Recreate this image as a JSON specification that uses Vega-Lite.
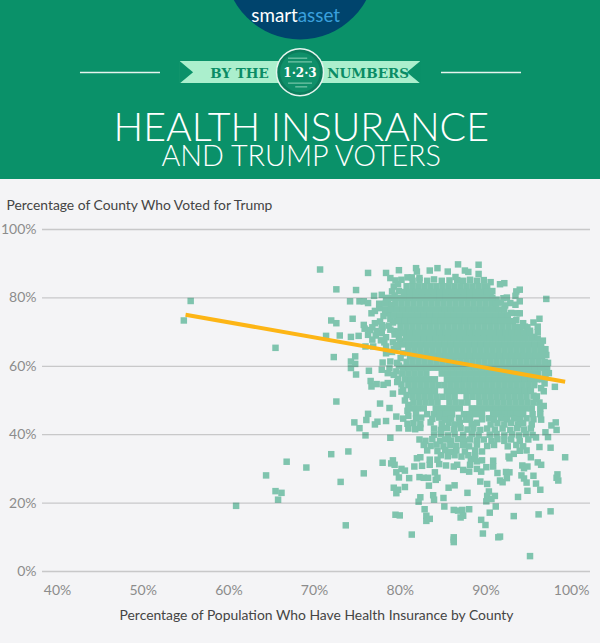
{"$schema":"https://vega.github.io/schema/vega-lite/v6.json","width":548,"height":342,"autosize":{"type":"none"},"padding":{"left":42,"top":229.5,"right":10,"bottom":71.5},"background":"#f4f4f6","config":{"view":{"stroke":null}},
"layer":[
{"data":{"values":[
{"x":54.8,"y":73.4},{"x":55.6,"y":79.1},{"x":65.5,"y":65.4},{"x":60.9,"y":19.2},{"x":64.4,"y":28.1},{"x":65.5,"y":23.5},{"x":65.8,"y":21},{"x":66.2,"y":23},{"x":66.8,"y":32.1},{"x":69.1,"y":30.4},{"x":72,"y":34.3},{"x":74,"y":35.1},{"x":73.1,"y":26.2},{"x":75.8,"y":28.7},{"x":73.7,"y":13.5},{"x":74.7,"y":43.6},{"x":75.3,"y":41.9},{"x":76.1,"y":44.3},{"x":76,"y":39.8},{"x":76.3,"y":46.1},{"x":77.1,"y":43},{"x":77.4,"y":43.8},{"x":78.4,"y":44},{"x":78.9,"y":39.1},{"x":78,"y":31.8},{"x":79.6,"y":45.3},{"x":79.9,"y":41.9},{"x":79.2,"y":32.5},{"x":79,"y":31.6},{"x":79.4,"y":31.2},{"x":79.6,"y":29},{"x":79.9,"y":27.5},{"x":80.2,"y":30},{"x":80.6,"y":29.5},{"x":81.1,"y":27.3},{"x":79.3,"y":24.5},{"x":79.8,"y":23.9},{"x":79.6,"y":22.9},{"x":80.6,"y":24.7},{"x":79.5,"y":16.6},{"x":80,"y":16.4},{"x":81.4,"y":10.8},{"x":81.7,"y":30.7},{"x":82.3,"y":27.6},{"x":82.8,"y":27.4},{"x":83.3,"y":27.4},{"x":83.4,"y":25.1},{"x":82.4,"y":21.7},{"x":82.2,"y":20.4},{"x":82.9,"y":18.2},{"x":83.1,"y":16.3},{"x":83.5,"y":15.4},{"x":83.1,"y":14.8},{"x":83.9,"y":22.3},{"x":84,"y":21},{"x":84.2,"y":26.8},{"x":84.4,"y":27.4},{"x":84.1,"y":29},{"x":85.1,"y":21.5},{"x":85.2,"y":19},{"x":85.7,"y":24.5},{"x":86.4,"y":25.2},{"x":86.3,"y":18},{"x":86.8,"y":17.8},{"x":87.3,"y":18},{"x":88.1,"y":18.2},{"x":87.4,"y":16.3},{"x":87.1,"y":15.8},{"x":86.3,"y":10},{"x":86.3,"y":9.3},{"x":86.3,"y":8.6},{"x":87.9,"y":23},{"x":89.4,"y":26.3},{"x":90.2,"y":25.6},{"x":90.4,"y":23.4},{"x":91.1,"y":22.1},{"x":90.2,"y":22.1},{"x":90.7,"y":21.2},{"x":90.1,"y":20.5},{"x":91.2,"y":19},{"x":90.5,"y":17.2},{"x":89.5,"y":15.1},{"x":90,"y":13.6},{"x":89.7,"y":11.1},{"x":91.5,"y":10},{"x":91.7,"y":10.2},{"x":93.3,"y":16.2},{"x":93.8,"y":21.8},{"x":95.2,"y":4.5},{"x":94.9,"y":23.6},{"x":96.4,"y":23.9},{"x":95.9,"y":25.7},{"x":95.6,"y":28},{"x":96.2,"y":16.7},{"x":97.6,"y":17.6},{"x":98.4,"y":28.4},{"x":98.3,"y":27.4},{"x":98.5,"y":26.6},{"x":99.3,"y":33.4},{"x":97.6,"y":36.2},{"x":96.3,"y":36.4},{"x":96.1,"y":31.9},{"x":96.5,"y":31.2},{"x":94.3,"y":31},{"x":94.9,"y":30.7},{"x":94.5,"y":30.2},{"x":94.2,"y":28.1},{"x":94.5,"y":27.2},{"x":94.8,"y":26},{"x":95.3,"y":33.4},{"x":94.8,"y":35.4},{"x":95.9,"y":39.2},{"x":97.3,"y":39.3},{"x":97,"y":40.7},{"x":98.3,"y":41.4},{"x":98.2,"y":43.6},{"x":97.7,"y":42.7},{"x":96.5,"y":44.4},{"x":91.4,"y":28.8},{"x":92.4,"y":29.1},{"x":92.8,"y":29},{"x":92.5,"y":27.3},{"x":91.7,"y":26.6},{"x":92,"y":26.1},{"x":92.8,"y":33.1},{"x":93.3,"y":34.4},{"x":92.7,"y":33.6},{"x":90.9,"y":32.4},{"x":90.9,"y":30.7},{"x":90.1,"y":30.5},{"x":89.6,"y":32.5},{"x":89,"y":32.2},{"x":88.3,"y":32.9},{"x":88.2,"y":31.2},{"x":87.4,"y":29.7},{"x":88.1,"y":29.2},{"x":89,"y":30},{"x":89.5,"y":29.2},{"x":86.3,"y":30.7},{"x":86.7,"y":31.2},{"x":85.4,"y":31},{"x":84.6,"y":31.4},{"x":83.5,"y":31.2},{"x":82.6,"y":30.9},{"x":82,"y":33.1},{"x":82.4,"y":33.4},{"x":83.5,"y":32.7},{"x":84.4,"y":32.7},
{"x":70.7,"y":88.3},{"x":76.3,"y":87.3},{"x":72.6,"y":82.5},{"x":74.9,"y":82.3},{"x":74.2,"y":79},{"x":75.3,"y":79},{"x":78.4,"y":87.3},{"x":79.9,"y":88.1},{"x":78.9,"y":85.8},{"x":79.5,"y":85.1},{"x":79.3,"y":83.3},{"x":79.1,"y":81.9},{"x":81.9,"y":88.7},{"x":82,"y":87.7},{"x":83.5,"y":88},{"x":84.4,"y":88.7},{"x":85.6,"y":87.7},{"x":86.8,"y":89.8},{"x":89.2,"y":89.7},{"x":89.2,"y":87},{"x":87.6,"y":88},{"x":88,"y":87.6},{"x":86.5,"y":86.1},{"x":80.9,"y":86},{"x":81.4,"y":86},{"x":82.3,"y":85.8},{"x":91.7,"y":84},{"x":92.2,"y":84.3},{"x":94,"y":82.4},{"x":93.6,"y":81.9},{"x":93.5,"y":80.6},{"x":92.1,"y":79.9},{"x":92.5,"y":80.1},{"x":92.9,"y":78.5},{"x":94,"y":79},{"x":93.5,"y":78},{"x":97.1,"y":79.7},{"x":96.3,"y":73.9},{"x":95.6,"y":72.8},{"x":96.1,"y":71.6},{"x":96.1,"y":70},{"x":94.6,"y":71.6},{"x":95.2,"y":70.4},{"x":93.7,"y":75.5},{"x":94,"y":75.5},{"x":72,"y":73.4},{"x":72.6,"y":72.6},{"x":74.5,"y":73.9},{"x":75.8,"y":72.1},{"x":71.4,"y":68.9},{"x":73,"y":69},{"x":74.3,"y":68.6},{"x":72.3,"y":62.7},{"x":74.8,"y":62.9},{"x":74.3,"y":61.4},{"x":74.8,"y":60.7},{"x":74.3,"y":59.5},{"x":74.9,"y":57.6},{"x":76.4,"y":58.7},{"x":76.6,"y":55.7},{"x":77.3,"y":54.8},{"x":76.7,"y":54.1},{"x":78.1,"y":54.6},{"x":78.6,"y":55.1},{"x":72.6,"y":49.7},{"x":77.7,"y":49.1},{"x":78.8,"y":47.8},{"x":79.2,"y":52},{"x":98.1,"y":54},{"x":97.4,"y":58},{"x":96.8,"y":52.7},{"x":95.6,"y":51.4},{"x":77,"y":80.6},{"x":77.9,"y":80.9},{"x":75.8,"y":79},{"x":76.3,"y":78.5},{"x":76.7,"y":75.5},{"x":77.7,"y":73.1},{"x":77.1,"y":72.6},{"x":77.9,"y":69.7},{"x":75.2,"y":68.9},{"x":76.3,"y":69.2},{"x":76,"y":65.8},{"x":76.9,"y":65.8},{"x":78.4,"y":65.8},{"x":78.4,"y":63.8},{"x":78.9,"y":70.7},{"x":78,"y":61.1},{"x":78.9,"y":61.4},{"x":77.9,"y":59},{"x":78.6,"y":58},{"x":79.6,"y":58.5},{"x":77.2,"y":69},{"x":76.8,"y":67.8},{"x":79.2,"y":67},
{"x":78.7,"y":75.5},{"x":78.3,"y":76.4},{"x":78.9,"y":73.9},{"x":79.2,"y":72.8},{"x":78.7,"y":71.9},{"x":79.4,"y":70.3},{"x":79.9,"y":68.4},{"x":79.4,"y":69.3},{"x":80,"y":67.3},{"x":79.8,"y":65.6},{"x":79.3,"y":65},{"x":80.4,"y":63.8},{"x":80.1,"y":62.4},{"x":79.7,"y":61},{"x":79.9,"y":60.2},{"x":78.8,"y":59.4},{"x":79.3,"y":57.5},{"x":79.8,"y":56.4},{"x":80.2,"y":54.7},{"x":79.7,"y":55.4},{"x":80.4,"y":53},{"x":80.8,"y":51.6},{"x":80.2,"y":52.6},{"x":80.6,"y":50},{"x":81,"y":48.7},{"x":80.9,"y":47},{"x":81,"y":45.5},{"x":80.4,"y":44.7},{"x":80.9,"y":43.2},{"x":77.6,"y":77},{"x":77.1,"y":76.2},{"x":78.1,"y":74.7},{"x":77.9,"y":72},{"x":78,"y":71.4},{"x":76.5,"y":70.6},{"x":75.9,"y":71},{"x":77.3,"y":70.3},{"x":76.8,"y":71.4},{"x":78.4,"y":68.5},{"x":77.8,"y":67.6},{"x":79.1,"y":64.2},{"x":79.6,"y":66.2},{"x":78.2,"y":67},{"x":79.9,"y":70},{"x":79.6,"y":74.2},{"x":79,"y":78},{"x":78.6,"y":79},{"x":79.9,"y":82},{"x":79.4,"y":80.7},{"x":79.8,"y":84},{"x":80.2,"y":85.3},{"x":90.6,"y":80.4},{"x":91.3,"y":79.5},{"x":91.8,"y":78.6},{"x":92.3,"y":77.8},{"x":90.2,"y":83},{"x":90.8,"y":82},{"x":90.6,"y":84.6},{"x":93,"y":75.6},{"x":93.6,"y":73.5},{"x":94.4,"y":72.6},{"x":94.9,"y":71.4},{"x":95.7,"y":68.6},{"x":96.7,"y":67.5},{"x":97,"y":65},{"x":97.1,"y":63.3},{"x":97.3,"y":61},{"x":97.2,"y":59.7},{"x":96.9,"y":58},{"x":97,"y":56.8},{"x":96.9,"y":55},{"x":96.5,"y":53.6},{"x":96,"y":51.2},{"x":95.9,"y":50.5},{"x":96.8,"y":48.4},
{"x":81.5,"y":85},{"x":82.3,"y":85.2},{"x":83.2,"y":85},{"x":84,"y":85.4},{"x":84.9,"y":85},{"x":85.8,"y":85.1},{"x":86.7,"y":85.2},{"x":87.4,"y":85},{"x":88.2,"y":85.3},{"x":89,"y":85},{"x":89.8,"y":85.2},
{"x":80.8,"y":83.4},{"x":81.5,"y":83.4},{"x":82.2,"y":83.4},{"x":82.9,"y":83.4},{"x":83.6,"y":83.4},{"x":84.3,"y":83.4},{"x":85,"y":83.4},{"x":85.7,"y":83.4},{"x":86.4,"y":83.4},{"x":87.1,"y":83.4},{"x":87.8,"y":83.4},{"x":88.5,"y":83.4},{"x":89.2,"y":83.4},{"x":89.9,"y":83.4},
{"x":80.5,"y":81.7},{"x":81.2,"y":81.7},{"x":81.9,"y":81.7},{"x":82.6,"y":81.7},{"x":83.3,"y":81.7},{"x":84,"y":81.7},{"x":84.7,"y":81.7},{"x":85.4,"y":81.7},{"x":86.1,"y":81.7},{"x":86.8,"y":81.7},{"x":87.5,"y":81.7},{"x":88.2,"y":81.7},{"x":88.9,"y":81.7},{"x":89.6,"y":81.7},{"x":90.2,"y":81.7},
{"x":78.4,"y":80},{"x":79.1,"y":80},{"x":79.8,"y":80},{"x":80.5,"y":80},{"x":81.2,"y":80},{"x":81.9,"y":80},{"x":82.6,"y":80},{"x":83.3,"y":80},{"x":84,"y":80},{"x":84.7,"y":80},{"x":85.4,"y":80},{"x":86.1,"y":80},{"x":86.8,"y":80},{"x":87.5,"y":80},{"x":88.2,"y":80},{"x":88.9,"y":80},{"x":89.6,"y":80},{"x":90.3,"y":80},{"x":90.8,"y":80},
{"x":77.6,"y":78.3},{"x":78.3,"y":78.3},{"x":79.5,"y":78.3},{"x":80.2,"y":78.3},{"x":80.9,"y":78.3},{"x":81.6,"y":78.3},{"x":82.3,"y":78.3},{"x":83,"y":78.3},{"x":83.7,"y":78.3},{"x":84.4,"y":78.3},{"x":85.1,"y":78.3},{"x":85.8,"y":78.3},{"x":86.5,"y":78.3},{"x":87.2,"y":78.3},{"x":87.9,"y":78.3},{"x":88.6,"y":78.3},{"x":89.3,"y":78.3},{"x":90,"y":78.3},{"x":90.7,"y":78.3},{"x":91.2,"y":78.3},
{"x":79,"y":76.6},{"x":79.7,"y":76.6},{"x":80.4,"y":76.6},{"x":81.1,"y":76.6},{"x":81.8,"y":76.6},{"x":82.5,"y":76.6},{"x":83.2,"y":76.6},{"x":83.9,"y":76.6},{"x":84.6,"y":76.6},{"x":85.3,"y":76.6},{"x":86,"y":76.6},{"x":86.7,"y":76.6},{"x":87.4,"y":76.6},{"x":88.1,"y":76.6},{"x":88.8,"y":76.6},{"x":89.5,"y":76.6},{"x":90.2,"y":76.6},{"x":90.9,"y":76.6},{"x":91.6,"y":76.6},{"x":92.2,"y":76.6},
{"x":79.3,"y":74.9},{"x":80,"y":74.9},{"x":80.7,"y":74.9},{"x":81.4,"y":74.9},{"x":82.1,"y":74.9},{"x":82.8,"y":74.9},{"x":83.5,"y":74.9},{"x":84.2,"y":74.9},{"x":84.9,"y":74.9},{"x":85.6,"y":74.9},{"x":86.3,"y":74.9},{"x":87,"y":74.9},{"x":87.7,"y":74.9},{"x":88.4,"y":74.9},{"x":89.1,"y":74.9},{"x":89.8,"y":74.9},{"x":90.5,"y":74.9},{"x":91.2,"y":74.9},{"x":91.9,"y":74.9},{"x":92.6,"y":74.9},
{"x":79.9,"y":73.2},{"x":80.6,"y":73.2},{"x":81.3,"y":73.2},{"x":82,"y":73.2},{"x":82.7,"y":73.2},{"x":83.4,"y":73.2},{"x":84.1,"y":73.2},{"x":84.8,"y":73.2},{"x":85.5,"y":73.2},{"x":86.2,"y":73.2},{"x":86.9,"y":73.2},{"x":87.6,"y":73.2},{"x":88.3,"y":73.2},{"x":89,"y":73.2},{"x":89.7,"y":73.2},{"x":90.4,"y":73.2},{"x":91.1,"y":73.2},{"x":91.8,"y":73.2},{"x":92.5,"y":73.2},{"x":93.2,"y":73.2},
{"x":80.1,"y":71.5},{"x":80.8,"y":71.5},{"x":81.5,"y":71.5},{"x":82.2,"y":71.5},{"x":82.9,"y":71.5},{"x":83.6,"y":71.5},{"x":84.3,"y":71.5},{"x":85,"y":71.5},{"x":85.7,"y":71.5},{"x":86.4,"y":71.5},{"x":87.1,"y":71.5},{"x":87.8,"y":71.5},{"x":88.5,"y":71.5},{"x":89.2,"y":71.5},{"x":89.9,"y":71.5},{"x":90.6,"y":71.5},{"x":91.3,"y":71.5},{"x":92,"y":71.5},{"x":92.7,"y":71.5},{"x":93.4,"y":71.5},{"x":94,"y":71.5},
{"x":80.5,"y":69.8},{"x":81.2,"y":69.8},{"x":81.9,"y":69.8},{"x":82.6,"y":69.8},{"x":83.3,"y":69.8},{"x":84,"y":69.8},{"x":84.7,"y":69.8},{"x":85.4,"y":69.8},{"x":86.1,"y":69.8},{"x":86.8,"y":69.8},{"x":87.5,"y":69.8},{"x":88.2,"y":69.8},{"x":88.9,"y":69.8},{"x":89.6,"y":69.8},{"x":90.3,"y":69.8},{"x":91,"y":69.8},{"x":91.7,"y":69.8},{"x":92.4,"y":69.8},{"x":93.1,"y":69.8},{"x":93.8,"y":69.8},{"x":94.5,"y":69.8},{"x":95.2,"y":69.8},
{"x":80.7,"y":68.1},{"x":81.4,"y":68.1},{"x":82.1,"y":68.1},{"x":82.8,"y":68.1},{"x":83.5,"y":68.1},{"x":84.2,"y":68.1},{"x":84.9,"y":68.1},{"x":85.6,"y":68.1},{"x":86.3,"y":68.1},{"x":87,"y":68.1},{"x":87.7,"y":68.1},{"x":88.4,"y":68.1},{"x":89.1,"y":68.1},{"x":89.8,"y":68.1},{"x":90.5,"y":68.1},{"x":91.2,"y":68.1},{"x":91.9,"y":68.1},{"x":92.6,"y":68.1},{"x":93.3,"y":68.1},{"x":94,"y":68.1},{"x":94.7,"y":68.1},{"x":95.4,"y":68.1},{"x":96.1,"y":68.1},
{"x":80.4,"y":66.4},{"x":81.1,"y":66.4},{"x":81.8,"y":66.4},{"x":82.5,"y":66.4},{"x":83.2,"y":66.4},{"x":83.9,"y":66.4},{"x":84.6,"y":66.4},{"x":85.3,"y":66.4},{"x":86,"y":66.4},{"x":86.7,"y":66.4},{"x":87.4,"y":66.4},{"x":88.1,"y":66.4},{"x":88.8,"y":66.4},{"x":89.5,"y":66.4},{"x":90.2,"y":66.4},{"x":90.9,"y":66.4},{"x":91.6,"y":66.4},{"x":92.3,"y":66.4},{"x":93,"y":66.4},{"x":93.7,"y":66.4},{"x":94.4,"y":66.4},{"x":95.1,"y":66.4},{"x":95.8,"y":66.4},{"x":96.5,"y":66.4},
{"x":81,"y":64.7},{"x":81.7,"y":64.7},{"x":82.4,"y":64.7},{"x":83.1,"y":64.7},{"x":83.8,"y":64.7},{"x":84.5,"y":64.7},{"x":85.2,"y":64.7},{"x":85.9,"y":64.7},{"x":86.6,"y":64.7},{"x":87.3,"y":64.7},{"x":88,"y":64.7},{"x":88.7,"y":64.7},{"x":89.4,"y":64.7},{"x":90.1,"y":64.7},{"x":90.8,"y":64.7},{"x":91.5,"y":64.7},{"x":92.2,"y":64.7},{"x":92.9,"y":64.7},{"x":93.6,"y":64.7},{"x":94.3,"y":64.7},{"x":95,"y":64.7},{"x":95.7,"y":64.7},{"x":96.4,"y":64.7},
{"x":81.2,"y":63},{"x":81.9,"y":63},{"x":82.6,"y":63},{"x":83.3,"y":63},{"x":84,"y":63},{"x":84.7,"y":63},{"x":85.4,"y":63},{"x":86.1,"y":63},{"x":86.8,"y":63},{"x":87.5,"y":63},{"x":88.2,"y":63},{"x":88.9,"y":63},{"x":89.6,"y":63},{"x":90.3,"y":63},{"x":91,"y":63},{"x":91.7,"y":63},{"x":92.4,"y":63},{"x":93.1,"y":63},{"x":93.8,"y":63},{"x":94.5,"y":63},{"x":95.2,"y":63},{"x":95.9,"y":63},{"x":96.6,"y":63},
{"x":80.8,"y":61.3},{"x":81.5,"y":61.3},{"x":82.2,"y":61.3},{"x":82.9,"y":61.3},{"x":83.6,"y":61.3},{"x":84.3,"y":61.3},{"x":85,"y":61.3},{"x":85.7,"y":61.3},{"x":86.4,"y":61.3},{"x":87.1,"y":61.3},{"x":87.8,"y":61.3},{"x":88.5,"y":61.3},{"x":89.2,"y":61.3},{"x":89.9,"y":61.3},{"x":90.6,"y":61.3},{"x":91.3,"y":61.3},{"x":92,"y":61.3},{"x":92.7,"y":61.3},{"x":93.4,"y":61.3},{"x":94.1,"y":61.3},{"x":94.8,"y":61.3},{"x":95.5,"y":61.3},{"x":96.2,"y":61.3},{"x":96.9,"y":61.3},
{"x":80.4,"y":59.6},{"x":81.1,"y":59.6},{"x":81.8,"y":59.6},{"x":82.5,"y":59.6},{"x":83.2,"y":59.6},{"x":83.9,"y":59.6},{"x":84.6,"y":59.6},{"x":85.3,"y":59.6},{"x":86,"y":59.6},{"x":86.7,"y":59.6},{"x":87.4,"y":59.6},{"x":88.1,"y":59.6},{"x":88.8,"y":59.6},{"x":89.5,"y":59.6},{"x":90.2,"y":59.6},{"x":90.9,"y":59.6},{"x":91.6,"y":59.6},{"x":92.3,"y":59.6},{"x":93,"y":59.6},{"x":93.7,"y":59.6},{"x":94.4,"y":59.6},{"x":95.1,"y":59.6},{"x":95.8,"y":59.6},{"x":96.5,"y":59.6},
{"x":80.3,"y":57.9},{"x":81,"y":57.9},{"x":81.7,"y":57.9},{"x":82.4,"y":57.9},{"x":83.1,"y":57.9},{"x":84.9,"y":57.9},{"x":85.6,"y":57.9},{"x":86.3,"y":57.9},{"x":87,"y":57.9},{"x":87.7,"y":57.9},{"x":88.4,"y":57.9},{"x":89.1,"y":57.9},{"x":89.8,"y":57.9},{"x":90.5,"y":57.9},{"x":91.2,"y":57.9},{"x":91.9,"y":57.9},{"x":92.6,"y":57.9},{"x":93.3,"y":57.9},{"x":94,"y":57.9},{"x":94.7,"y":57.9},{"x":95.4,"y":57.9},{"x":96.1,"y":57.9},
{"x":80.6,"y":56.2},{"x":81.3,"y":56.2},{"x":82,"y":56.2},{"x":82.7,"y":56.2},{"x":83.4,"y":56.2},{"x":84.1,"y":56.2},{"x":85.5,"y":56.2},{"x":86.2,"y":56.2},{"x":86.9,"y":56.2},{"x":87.6,"y":56.2},{"x":88.3,"y":56.2},{"x":89,"y":56.2},{"x":89.7,"y":56.2},{"x":90.4,"y":56.2},{"x":91.1,"y":56.2},{"x":91.8,"y":56.2},{"x":92.5,"y":56.2},{"x":93.2,"y":56.2},{"x":93.9,"y":56.2},{"x":94.6,"y":56.2},{"x":95.3,"y":56.2},{"x":96,"y":56.2},{"x":96.6,"y":56.2},
{"x":81,"y":54.5},{"x":81.7,"y":54.5},{"x":82.4,"y":54.5},{"x":83.1,"y":54.5},{"x":83.8,"y":54.5},{"x":84.5,"y":54.5},{"x":85.2,"y":54.5},{"x":85.9,"y":54.5},{"x":86.6,"y":54.5},{"x":87.3,"y":54.5},{"x":88,"y":54.5},{"x":88.7,"y":54.5},{"x":89.4,"y":54.5},{"x":90.1,"y":54.5},{"x":90.8,"y":54.5},{"x":91.5,"y":54.5},{"x":92.2,"y":54.5},{"x":92.9,"y":54.5},{"x":93.6,"y":54.5},{"x":94.3,"y":54.5},{"x":95,"y":54.5},{"x":95.7,"y":54.5},
{"x":81.3,"y":52.8},{"x":82,"y":52.8},{"x":82.7,"y":52.8},{"x":83.4,"y":52.8},{"x":84.1,"y":52.8},{"x":85.5,"y":52.8},{"x":86.2,"y":52.8},{"x":86.9,"y":52.8},{"x":87.6,"y":52.8},{"x":88.3,"y":52.8},{"x":89,"y":52.8},{"x":89.7,"y":52.8},{"x":90.4,"y":52.8},{"x":91.1,"y":52.8},{"x":91.8,"y":52.8},{"x":92.5,"y":52.8},{"x":93.2,"y":52.8},{"x":93.9,"y":52.8},{"x":94.6,"y":52.8},{"x":95.3,"y":52.8},
{"x":81.5,"y":51.1},{"x":82.2,"y":51.1},{"x":82.9,"y":51.1},{"x":83.6,"y":51.1},{"x":84.3,"y":51.1},{"x":85,"y":51.1},{"x":85.7,"y":51.1},{"x":86.4,"y":51.1},{"x":87.8,"y":51.1},{"x":88.5,"y":51.1},{"x":89.2,"y":51.1},{"x":89.9,"y":51.1},{"x":90.6,"y":51.1},{"x":91.3,"y":51.1},{"x":92,"y":51.1},{"x":92.7,"y":51.1},{"x":93.4,"y":51.1},{"x":94.1,"y":51.1},{"x":94.8,"y":51.1},
{"x":81.6,"y":49.4},{"x":82.3,"y":49.4},{"x":83,"y":49.4},{"x":83.7,"y":49.4},{"x":84.4,"y":49.4},{"x":85.8,"y":49.4},{"x":86.5,"y":49.4},{"x":87.2,"y":49.4},{"x":87.9,"y":49.4},{"x":89.3,"y":49.4},{"x":90,"y":49.4},{"x":90.7,"y":49.4},{"x":91.4,"y":49.4},{"x":92.1,"y":49.4},{"x":92.8,"y":49.4},{"x":93.5,"y":49.4},{"x":94.2,"y":49.4},{"x":94.9,"y":49.4},{"x":95.6,"y":49.4},{"x":96.3,"y":49.4},
{"x":81.4,"y":47.7},{"x":82.1,"y":47.7},{"x":82.8,"y":47.7},{"x":84.2,"y":47.7},{"x":84.9,"y":47.7},{"x":85.6,"y":47.7},{"x":86.3,"y":47.7},{"x":87,"y":47.7},{"x":88.4,"y":47.7},{"x":89.1,"y":47.7},{"x":89.8,"y":47.7},{"x":90.5,"y":47.7},{"x":91.2,"y":47.7},{"x":91.9,"y":47.7},{"x":92.6,"y":47.7},{"x":93.3,"y":47.7},{"x":94,"y":47.7},{"x":94.7,"y":47.7},{"x":95.4,"y":47.7},{"x":96.4,"y":47.7},
{"x":81.9,"y":46},{"x":83.2,"y":46},{"x":84,"y":46},{"x":84.7,"y":46},{"x":85.4,"y":46},{"x":86.1,"y":46},{"x":87.5,"y":46},{"x":88.2,"y":46},{"x":88.9,"y":46},{"x":89.6,"y":46},{"x":90.9,"y":46},{"x":91.6,"y":46},{"x":92.3,"y":46},{"x":93,"y":46},{"x":93.7,"y":46},{"x":94.4,"y":46},{"x":95.5,"y":46},{"x":96.4,"y":46},
{"x":81.9,"y":44.8},{"x":82.5,"y":45},{"x":83.8,"y":44.6},{"x":84.6,"y":45},{"x":85.3,"y":44.4},{"x":86,"y":44.7},{"x":86.9,"y":44.9},{"x":87.7,"y":44.4},{"x":88.2,"y":44.9},{"x":89.6,"y":44.5},{"x":90.4,"y":44.8},{"x":91,"y":44.4},{"x":91.8,"y":44.9},{"x":92.5,"y":44.5},{"x":93.3,"y":44.8},{"x":94,"y":44.4},{"x":94.8,"y":44.8},{"x":95.6,"y":44.5},
{"x":81.6,"y":43.4},{"x":82.4,"y":43.1},{"x":83.6,"y":43.6},{"x":84.9,"y":43.2},{"x":85.7,"y":43.5},{"x":86.4,"y":43},{"x":87,"y":43.4},{"x":88.4,"y":43.1},{"x":89,"y":43.5},{"x":90.6,"y":43},{"x":91.4,"y":43.4},{"x":92.2,"y":43},{"x":93,"y":43.5},{"x":93.8,"y":43},{"x":94.4,"y":43.4},{"x":95.4,"y":43},
{"x":81,"y":41.8},{"x":81.8,"y":41.6},{"x":82.4,"y":42},{"x":84,"y":41.8},{"x":84.8,"y":41.4},{"x":85.5,"y":41.9},{"x":86.3,"y":41.5},{"x":87.1,"y":41.9},{"x":87.9,"y":41.5},{"x":88.6,"y":41.8},{"x":89.4,"y":41.4},{"x":90.2,"y":41.8},{"x":91.1,"y":41.5},{"x":92,"y":41.8},{"x":92.9,"y":41.4},{"x":93.7,"y":41.9},{"x":94.5,"y":41.5},{"x":95.3,"y":41.8},
{"x":84,"y":40},{"x":84.8,"y":40.2},{"x":85.6,"y":39.8},{"x":86.4,"y":40.2},{"x":87.4,"y":39.9},{"x":88.4,"y":40.2},{"x":89.2,"y":39.9},{"x":90.5,"y":40},{"x":91.3,"y":40.2},{"x":92.2,"y":39.8},{"x":93.1,"y":40.1},{"x":93.9,"y":39.8},{"x":94.7,"y":40.2},{"x":95.5,"y":39.9},
{"x":82.3,"y":38.6},{"x":83,"y":38.2},{"x":83.8,"y":38.7},{"x":84.7,"y":38.2},{"x":85.3,"y":38.6},{"x":86,"y":38.3},{"x":86.8,"y":38.7},{"x":87.5,"y":38.2},{"x":88.2,"y":38.6},{"x":89,"y":38.3},{"x":89.8,"y":38.6},{"x":90.7,"y":38.2},{"x":91.4,"y":38.7},{"x":92.2,"y":38.2},{"x":93,"y":38.6},{"x":94,"y":38.2},{"x":95,"y":38.6},
{"x":82.8,"y":37},{"x":83.6,"y":36.7},{"x":84.3,"y":37.1},{"x":85.1,"y":36.6},{"x":85.9,"y":37},{"x":86.6,"y":36.7},{"x":87.4,"y":37},{"x":88.1,"y":36.6},{"x":89,"y":37.1},{"x":90.2,"y":36.7},{"x":91,"y":37},{"x":92.6,"y":36.6},{"x":93.6,"y":37},{"x":94.4,"y":36.6},
{"x":83.2,"y":35.4},{"x":84.4,"y":35.2},{"x":85.3,"y":35.5},{"x":86,"y":35},{"x":86.6,"y":35.4},{"x":87.6,"y":35.1},{"x":88.8,"y":35.4},{"x":89.6,"y":35.1},{"x":94,"y":35.3},
{"x":84.8,"y":34},{"x":85.6,"y":33.7},{"x":86.4,"y":34},{"x":87.2,"y":33.6},{"x":88,"y":34},{"x":88.8,"y":33.7}
]},"mark":{"type":"point","shape":"square","filled":true,"size":42,"color":"#7fc4ae","opacity":1},
"encoding":{"x":{"field":"x","type":"quantitative","scale":{"domain":[38.25,102.2],"nice":false,"zero":false},"axis":{"values":[40,50,60,70,80,90,100],"labelExpr":"datum.value + '%'","grid":false,"domain":false,"ticks":false,"labelFont":"Lato","labelFontSize":14,"labelColor":"#8c8c8c","labelPadding":12,"title":"Percentage of Population Who Have Health Insurance by County","titleFont":"Lato","titleFontSize":13.9,"titleFontWeight":"normal","titleColor":"#444444","titlePadding":11}},
"y":{"field":"y","type":"quantitative","scale":{"domain":[0,100],"nice":false},"axis":{"values":[0,20,40,60,80,100],"labelExpr":"datum.value + '%'","grid":false,"domain":false,"ticks":false,"labelFont":"Lato","labelFontSize":14,"labelColor":"#8c8c8c","labelPadding":6,"title":"Percentage of County Who Voted for Trump","titleFont":"Lato","titleFontSize":13.85,"titleFontWeight":"normal","titleColor":"#444444","titleAngle":0,"titleAlign":"left","titleBaseline":"alphabetic","titleX":-36,"titleY":-20}}}},
{"data":{"values":[{"g":0},{"g":20},{"g":40},{"g":60},{"g":80},{"g":100}]},"mark":{"type":"rule","stroke":"#555555","strokeOpacity":0.28,"strokeWidth":1.3},"encoding":{"y":{"field":"g","type":"quantitative"}}},
{"data":{"values":[{"lx":55,"ly":75.1},{"lx":99.3,"ly":55.5}]},"mark":{"type":"line","color":"#fdb515","strokeWidth":4},"encoding":{"x":{"field":"lx","type":"quantitative"},"y":{"field":"ly","type":"quantitative"}}},
{"data":{"values":[{}]},"mark":{"type":"rect","color":"#0a9169"},"encoding":{"x":{"datum":33},"x2":{"datum":104},"y":{"datum":114.76},"y2":{"datum":168}}},
{"data":{"values":[{}]},"mark":{"type":"point","shape":"circle","filled":true,"size":22680,"color":"#00446d","opacity":1},"encoding":{"x":{"datum":68.36},"y":{"datum":177.6}}},
{"data":{"values":[{"t":"smart"}]},"mark":{"type":"text","font":"Lato","fontSize":18.8,"fontWeight":400,"color":"#ffffff","align":"right","baseline":"alphabetic"},"encoding":{"x":{"datum":68.1},"y":{"datum":160.8},"text":{"field":"t"}}},
{"data":{"values":[{"t":"asset"}]},"mark":{"type":"text","font":"Lato","fontSize":18.8,"fontWeight":400,"color":"#3aa0dc","align":"left","baseline":"alphabetic"},"encoding":{"x":{"datum":68.1},"y":{"datum":160.8},"text":{"field":"t"}}},
{"data":{"values":[{}]},"mark":{"type":"rule","color":"#e6f4ee","strokeWidth":1.3},"encoding":{"x":{"datum":42.68},"x2":{"datum":52.02},"y":{"datum":145.9}}},
{"data":{"values":[{}]},"mark":{"type":"rule","color":"#e6f4ee","strokeWidth":1.3},"encoding":{"x":{"datum":84.81},"x2":{"datum":94.15},"y":{"datum":145.9}}},
{"data":{"values":[{}]},"mark":{"type":"rect","color":"#abefcd"},"encoding":{"x":{"datum":54.35},"x2":{"datum":82.36},"y":{"datum":142.8},"y2":{"datum":149.3}}},
{"data":{"values":[{}]},"mark":{"type":"point","shape":"M-0.6,-1L0.6,0L-0.6,1Z","filled":true,"size":484,"color":"#0a9169","opacity":1},"encoding":{"x":{"datum":55.11},"y":{"datum":146}}},
{"data":{"values":[{}]},"mark":{"type":"point","shape":"M0.6,-1L-0.6,0L0.6,1Z","filled":true,"size":484,"color":"#0a9169","opacity":1},"encoding":{"x":{"datum":81.6},"y":{"datum":146}}},
{"data":{"values":[{}]},"mark":{"type":"point","shape":"circle","filled":true,"size":2209,"color":"#0b7d5c","stroke":"#e6f4ee","strokeWidth":1.5,"opacity":1},"encoding":{"x":{"datum":68.36},"y":{"datum":146}}},
{"data":{"values":[{}]},"mark":{"type":"point","shape":"circle","filled":true,"size":1600,"color":"#0f8f69","opacity":1},"encoding":{"x":{"datum":68.36},"y":{"datum":146}}},
{"data":{"values":[{"a":66.96,"b":69.2,"c":150.1},{"a":66.96,"b":69.76,"c":149},{"a":66.96,"b":69.76,"c":142.8},{"a":67.8,"b":69.2,"c":141.7}]},"mark":{"type":"rule","color":"#8fd3b8","strokeWidth":1},"encoding":{"x":{"field":"a","type":"quantitative"},"x2":{"field":"b"},"y":{"field":"c","type":"quantitative"}}},
{"data":{"values":[{"t":"1·2·3"}]},"mark":{"type":"text","font":"DejaVu Serif","fontWeight":"bold","fontSize":12,"color":"#ffffff","align":"center","baseline":"alphabetic"},"encoding":{"x":{"datum":68.36},"y":{"datum":144.6},"text":{"field":"t"}}},
{"data":{"values":[{"t":"BY THE"}]},"mark":{"type":"text","font":"DejaVu Serif","fontWeight":"bold","fontSize":13.5,"color":"#0a8c65","align":"center","baseline":"alphabetic"},"encoding":{"x":{"datum":61.3},"y":{"datum":144.3},"text":{"field":"t"}}},
{"data":{"values":[{"t":"NUMBERS"}]},"mark":{"type":"text","font":"DejaVu Serif","fontWeight":"bold","fontSize":13.5,"color":"#0a8c65","align":"center","baseline":"alphabetic"},"encoding":{"x":{"datum":76.3},"y":{"datum":144.3},"text":{"field":"t"}}},
{"data":{"values":[{"t":"HEALTH INSURANCE"}]},"mark":{"type":"text","font":"Lato","fontWeight":300,"fontSize":39.3,"color":"#ffffff","align":"center","baseline":"alphabetic"},"encoding":{"x":{"datum":68.5},"y":{"datum":125.9},"text":{"field":"t"}}},
{"data":{"values":[{"t":"AND TRUMP VOTERS"}]},"mark":{"type":"text","font":"Lato","fontWeight":300,"fontSize":28.8,"color":"#ffffff","align":"center","baseline":"alphabetic"},"encoding":{"x":{"datum":68.5},"y":{"datum":118.6},"text":{"field":"t"}}}
]}
